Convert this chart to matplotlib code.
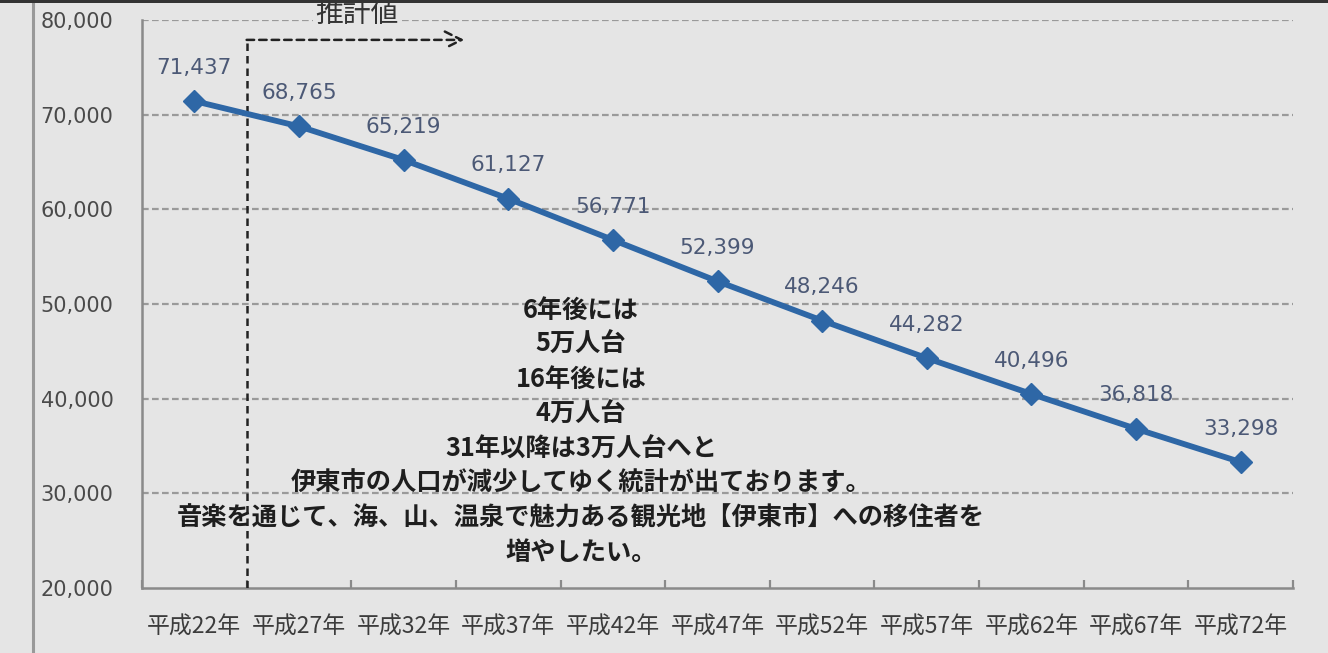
import numpy as np
import matplotlib
matplotlib.use('Agg')
import matplotlib.pyplot as plt
from matplotlib.patches import Rectangle
from matplotlib.lines import Line2D

plt.rcParams['font.family'] = ['Noto Sans CJK JP', 'DejaVu Sans']

# データ（伊東市の将来人口推計）
years = ['平成22年', '平成27年', '平成32年', '平成37年', '平成42年', '平成47年',
         '平成52年', '平成57年', '平成62年', '平成67年', '平成72年']
population = [71437, 68765, 65219, 61127, 56771, 52399, 48246, 44282, 40496, 36818, 33298]
yticks = [20000, 30000, 40000, 50000, 60000, 70000, 80000]
message = ['6年後には', '5万人台', '16年後には', '4万人台', '31年以降は3万人台へと',
           '伊東市の人口が減少してゆく統計が出ております。',
           '音楽を通じて、海、山、温泉で魅力ある観光地【伊東市】への移住者を',
           '増やしたい。']
estimate_label = '推計値'

bg = '#e5e5e5'
line_color = '#2e67a6'
label_color = '#4c5976'
axis_color = '#8a8a8a'

W, H = 1328, 653
fig = plt.figure(figsize=(W / 100, H / 100), dpi=100, facecolor=bg)
ax = fig.add_axes([142 / W, 1 - 588 / H, (1293 - 142) / W, (588 - 20) / H])
ax.set_facecolor(bg)

x = np.arange(len(years))
ax.set_xlim(-0.5, len(years) - 0.5)
ax.set_ylim(20000, 80000)

# 横グリッド（破線）
for v in yticks[1:]:
    ax.axhline(v, color='#9a9a9a', lw=1.6, ls=(0, (3, 1.5)), zorder=1)

ax.plot(x, population, color=line_color, lw=4.2, marker='D', ms=11,
        markerfacecolor=line_color, markeredgecolor=line_color, zorder=4)

for xi, v in zip(x, population):
    ax.annotate(f'{v:,}', (xi, v), xytext=(0, 24), textcoords='offset points',
                ha='center', va='center', color=label_color, fontsize=15.5,
                family=['DejaVu Sans'], zorder=5)

# 軸
for s in ['top', 'right']:
    ax.spines[s].set_visible(False)
for s in ['left', 'bottom']:
    ax.spines[s].set_color(axis_color)
    ax.spines[s].set_linewidth(1.8)

ax.set_yticks(yticks)
ax.set_yticklabels([f'{v:,}' for v in yticks], color='#4a4a4a', fontsize=15,
                   family=['DejaVu Sans'])
for t in ax.get_yticklabels():
    t.set_horizontalalignment('left')
ax.tick_params(axis='y', length=0, pad=73)

ax.set_xticks(np.arange(-0.5, len(years), 1.0))
ax.set_xticklabels([])
ax.set_xticks(x, minor=True)
ax.set_xticklabels(years, minor=True, fontsize=16.5, color='#3c3c3c')
ax.tick_params(axis='x', which='major', direction='in', length=6, width=1.6,
               color=axis_color)
ax.tick_params(axis='x', which='minor', length=0, pad=20)

# 推計値の矢印
ax.plot([0.5, 0.5], [20000, 77900], color='#222222', lw=1.8, ls=(0, (3, 2)), zorder=3)
ax.annotate('', xy=(2.58, 77900), xytext=(0.5, 77900),
            arrowprops=dict(arrowstyle='->', color='#222222', lw=1.8,
                            linestyle=(0, (3, 2)), mutation_scale=30, shrinkA=0, shrinkB=0))
ax.text(1.55, 80600, estimate_label, ha='center', va='center', fontsize=20,
        color='#333333', zorder=6,
        bbox=dict(facecolor=bg, edgecolor='none', pad=1))

# メッセージ
y0 = 310
for i, line in enumerate(message):
    fig.text(581 / W, 1 - (y0 + i * 34.7) / H, line, ha='center', va='center',
             fontsize=18.2, fontweight='bold', color='#1e1e1e')

# 画面の枠
fig.add_artist(Line2D([33 / W, 33 / W], [0, 1], color='#999999', lw=2.2))
fig.add_artist(Rectangle((0, 1 - 3 / H), 1, 3 / H, transform=fig.transFigure,
                         facecolor='#333333', edgecolor='none', zorder=10))

fig.savefig('out.png', dpi=100, facecolor=bg)
